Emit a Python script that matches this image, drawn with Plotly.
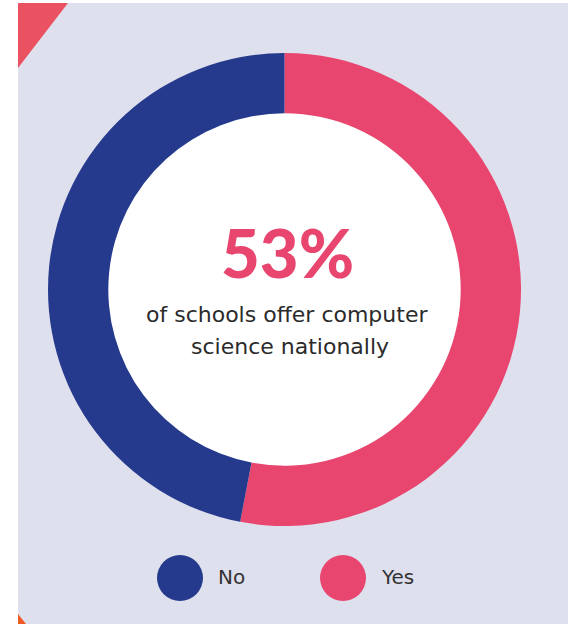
import plotly.graph_objects as go

# Survey share of schools offering computer science
labels = ["Yes", "No"]
values = [53, 47]
colors = ["#e8466f", "#253a8c"]
headline = "53%"
caption = ["of schools offer computer", "science nationally"]
legend_order = ["No", "Yes"]

W, H = 568, 624


def px(x):
    return x / W


def py(y):
    return 1 - y / H


fig = go.Figure()

fig.add_trace(go.Pie(
    labels=labels,
    values=values,
    hole=0.745,
    sort=False,
    direction="clockwise",
    rotation=0,
    marker=dict(colors=colors, line=dict(width=0)),
    textinfo="none",
    hoverinfo="label+percent",
    showlegend=False,
    domain=dict(x=[px(48), px(521)], y=[py(526), py(53)]),
))

shapes = [
    # lavender panel
    dict(type="rect", xref="paper", yref="paper", x0=px(18), x1=1, y0=0, y1=py(3),
         fillcolor="#dfe0ee", line=dict(width=0), layer="below"),
    # coral corner accent
    dict(type="path", xref="paper", yref="paper",
         path=f"M {px(18)} {py(3)} L {px(68)} {py(3)} L {px(18)} {py(68)} Z",
         fillcolor="#ea5262", line=dict(width=0), layer="below"),
    # orange corner accent at the bottom
    dict(type="path", xref="paper", yref="paper",
         path=f"M {px(18)} {py(614)} L {px(26)} {py(624)} L {px(18)} {py(624)} Z",
         fillcolor="#ee5a24", line=dict(width=0), layer="below"),
    # white disc filling the donut hole
    dict(type="circle", xref="paper", yref="paper",
         x0=px(284.5 - 180), x1=px(284.5 + 180), y0=py(289.5 + 180), y1=py(289.5 - 180),
         fillcolor="white", line=dict(width=0), layer="below"),
]

annotations = [
    dict(text=headline, x=px(287), y=py(252), xref="paper", yref="paper",
         showarrow=False, font=dict(family="Lato", size=67, color="#e8466f", weight=900),
         xanchor="center", yanchor="middle"),
    dict(text=caption[0], x=px(287), y=py(314), xref="paper", yref="paper",
         showarrow=False, font=dict(family="DejaVu Sans", size=22, color="#2b2b2b"),
         xanchor="center", yanchor="middle"),
    dict(text=caption[1], x=px(290), y=py(346), xref="paper", yref="paper",
         showarrow=False, font=dict(family="DejaVu Sans", size=22, color="#2b2b2b"),
         xanchor="center", yanchor="middle"),
]

# legend markers and labels
color_of = dict(zip(labels, colors))
legend_x = [180, 343]
for name, cx in zip(legend_order, legend_x):
    r = 23
    shapes.append(dict(type="circle", xref="paper", yref="paper",
                       x0=px(cx - r), x1=px(cx + r), y0=py(578 + r), y1=py(578 - r),
                       fillcolor=color_of[name], line=dict(width=0)))
    annotations.append(dict(text=name, x=px(cx + 36), y=py(577), xref="paper", yref="paper",
                            showarrow=False, font=dict(family="DejaVu Sans", size=20, color="#333333"),
                            xanchor="left", yanchor="middle"))

fig.update_layout(
    width=W, height=H,
    margin=dict(l=0, r=0, t=0, b=0),
    paper_bgcolor="white",
    plot_bgcolor="white",
    shapes=shapes,
    annotations=annotations,
)

fig.write_html("out.html", config={"displayModeBar": False})
